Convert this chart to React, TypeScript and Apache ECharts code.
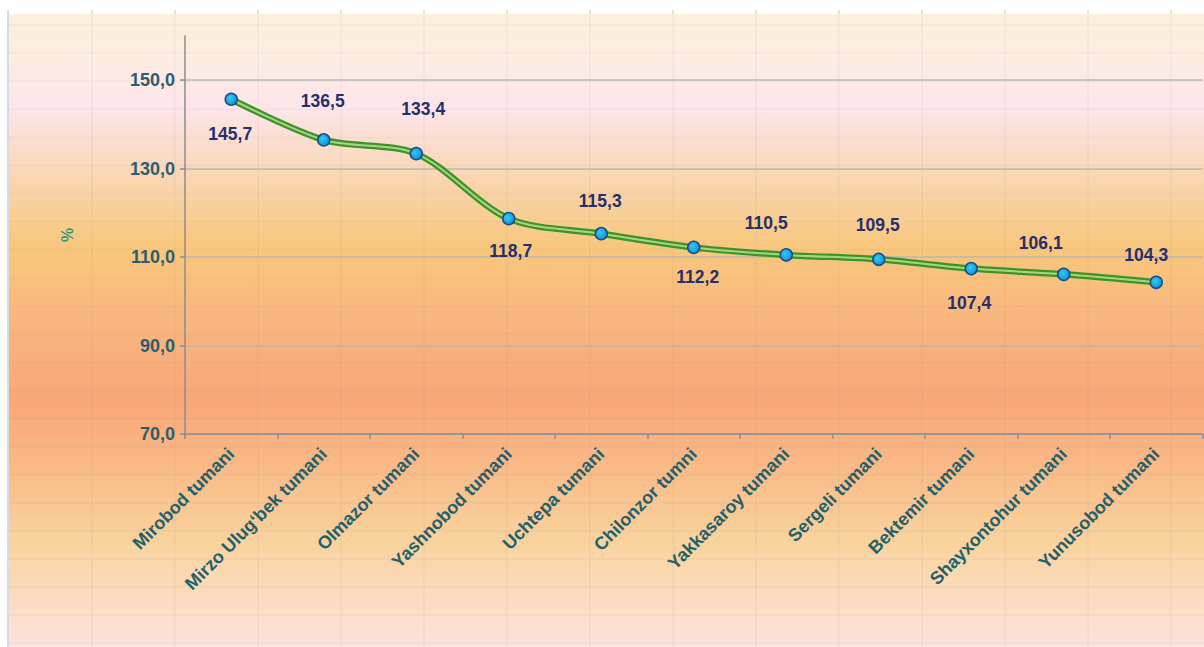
import React, { useEffect, useRef } from 'react';
import * as echarts from 'echarts';

// ---- data ----
const categories = [
  'Mirobod tumani',
  'Mirzo Ulug‘bek tumani',
  'Olmazor tumani',
  'Yashnobod tumani',
  'Uchtepa tumani',
  'Chilonzor tumni',
  'Yakkasaroy tumani',
  'Sergeli tumani',
  'Bektemir tumani',
  'Shayxontohur tumani',
  'Yunusobod tumani',
];
const values = [145.7, 136.5, 133.4, 118.7, 115.3, 112.2, 110.5, 109.5, 107.4, 106.1, 104.3];
const yTickValues = [70, 90, 110, 130, 150];
const yMin = 70;
const yMax = 160;
const yAxisName = '%';

// ---- layout (label offsets relative to each point, px) ----
const labelOffsets: [number, number][] = [
  [-1, 35], [-1, -39], [7, -45], [2, 32], [-1, -33], [4, 30],
  [-20, -32], [-1, -34], [-2, 34], [-23, -31], [-10, -27],
];

const fmt = (v: number) => v.toFixed(1).replace('.', ',');

export default function App() {
  const ref = useRef<HTMLDivElement>(null);
  useEffect(() => {
    if (!ref.current) return;
    const chart = echarts.init(ref.current, undefined, { renderer: 'svg' });
    const W = 1204, H = 647;
    const bgTop = 14, bgLeft = 8;

    const sheetLines: any[] = [];
    for (let x = 92; x < W; x += 83) {
      sheetLines.push({
        type: 'line', z: -9, silent: true,
        shape: { x1: x, y1: bgTop, x2: x, y2: H },
        style: { stroke: 'rgba(120,120,140,0.07)', lineWidth: 1.5 },
      });
      sheetLines.push({
        type: 'line', z: -9, silent: true,
        shape: { x1: x, y1: 10, x2: x, y2: bgTop },
        style: { stroke: '#d3dae8', lineWidth: 1.5 },
      });
    }
    for (let y = 25; y < H; y += 28.1) {
      sheetLines.push({
        type: 'line', z: -9, silent: true,
        shape: { x1: bgLeft, y1: y, x2: W, y2: y },
        style: { stroke: 'rgba(120,120,140,0.05)', lineWidth: 1.5 },
      });
    }

    const option: any = {
      animation: false,
      backgroundColor: '#ffffff',
      graphic: [
        {
          type: 'rect', z: -10, silent: true,
          shape: { x: bgLeft, y: bgTop, width: W - bgLeft, height: H - bgTop },
          style: {
            fill: new echarts.graphic.LinearGradient(0, 0, 0, 1, [
              { offset: 0, color: '#fcf0dc' },
              { offset: 0.07, color: '#fdede2' },
              { offset: 0.15, color: '#fde5ea' },
              { offset: 0.27, color: '#f9d4ac' },
              { offset: 0.37, color: '#f8c77c' },
              { offset: 0.5, color: '#f8b47e' },
              { offset: 0.61, color: '#f9a678' },
              { offset: 0.72, color: '#f9bb88' },
              { offset: 0.84, color: '#f9d49f' },
              { offset: 1, color: '#fde2de' },
            ]),
          },
        },
        {
          type: 'line', z: -8, silent: true,
          shape: { x1: bgLeft, y1: 10, x2: bgLeft, y2: H },
          style: { stroke: '#d3dae8', lineWidth: 2 },
        },
        ...sheetLines,
      ],
      grid: { left: 185, right: 1.5, top: 36, bottom: 213, containLabel: false },
      xAxis: {
        type: 'category',
        data: categories,
        boundaryGap: true,
        axisLine: { show: true, lineStyle: { color: '#8c8c8c', width: 1.5 } },
        axisTick: { show: true, length: 5, alignWithLabel: false, lineStyle: { color: '#8c8c8c', width: 1.5 } },
        axisLabel: {
          rotate: 45,
          interval: 0,
          margin: 17,
          color: '#23606c',
          fontFamily: 'Liberation Sans, Arial, sans-serif',
          fontWeight: 'bold',
          fontSize: 18,
        },
        splitLine: { show: false },
      },
      yAxis: {
        type: 'value',
        min: yMin,
        max: yMax,
        name: yAxisName,
        nameLocation: 'middle',
        nameRotate: 90,
        nameGap: 110,
        nameTextStyle: {
          color: '#2f9a80',
          fontFamily: 'Liberation Sans, Arial, sans-serif',
          fontWeight: 'bold',
          fontSize: 16,
        },
        axisLine: { show: true, lineStyle: { color: '#8c8c8c', width: 1.5 } },
        axisTick: { show: true, length: 5, customValues: yTickValues, lineStyle: { color: '#8c8c8c', width: 1.5 } },
        axisLabel: {
          customValues: yTickValues,
          formatter: (v: number) => fmt(v),
          margin: 10,
          color: '#2b5e6e',
          fontFamily: 'Liberation Sans, Arial, sans-serif',
          fontWeight: 'bold',
          fontSize: 18,
        },
        splitLine: { show: true, lineStyle: { color: '#b7b7b7', width: 1.5 } },
      },
      series: [
        {
          type: 'line',
          data: values,
          smooth: 0.3,
          showSymbol: false,
          symbol: 'none',
          lineStyle: { color: '#3f9228', width: 6.5 },
          z: 2,
          silent: true,
        },
        {
          type: 'line',
          data: values.map((v, i) => ({
            value: v,
            label: { offset: labelOffsets[i] },
          })),
          smooth: 0.3,
          symbol: 'circle',
          symbolSize: 12,
          itemStyle: {
            color: new echarts.graphic.RadialGradient(0.4, 0.4, 0.6, [
              { offset: 0, color: '#34c8f5' },
              { offset: 1, color: '#0f95d6' },
            ]),
            borderColor: '#1b4a86',
            borderWidth: 1.5,
          },
          lineStyle: { color: '#a2d884', width: 2 },
          z: 3,
          label: {
            show: true,
            position: 'inside',
            formatter: (p: any) => fmt(p.value),
            color: '#262e6c',
            fontFamily: 'Liberation Sans, Arial, sans-serif',
            fontWeight: 'bold',
            fontSize: 17.5,
          },
        },
      ],
    };
    chart.setOption(option);
    return () => chart.dispose();
  }, []);
  return (
    <div
      ref={ref}
      style={{ position: 'fixed', left: 0, top: 0, width: 1204, height: 647 }}
    />
  );
}
